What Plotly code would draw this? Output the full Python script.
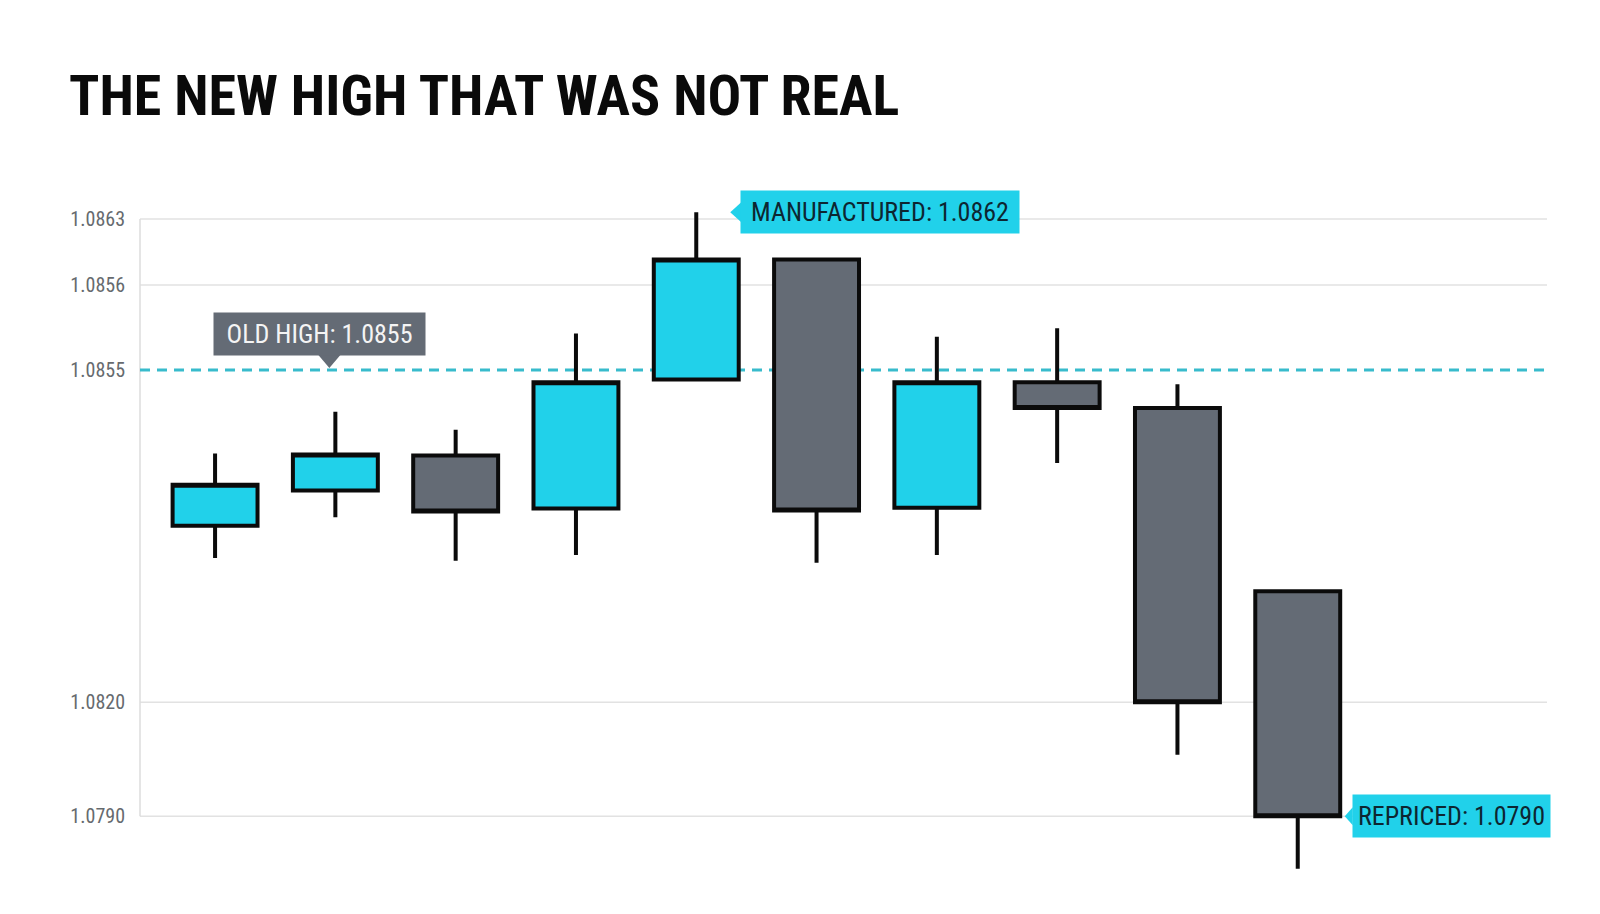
import numpy as np
import plotly.graph_objects as go

# ten sessions, oldest first
SESSIONS = list(range(10))
OPEN = [1.08386, 1.08423, 1.08460, 1.08404, 1.08540, 1.08587, 1.08405, 1.08537, 1.08510, 1.08317]
HIGH = [1.08462, 1.08506, 1.08487, 1.085543, 1.08637, 1.08587, 1.085539, 1.085549, 1.08535, 1.08317]
LOW = [1.08352, 1.08395, 1.08349, 1.08355, 1.08540, 1.08347, 1.08355, 1.08452, 1.08062, 1.07762]
CLOSE = [1.08429, 1.08461, 1.08401, 1.08537, 1.08587, 1.08402, 1.08537, 1.08510, 1.08200, 1.07900]

TICK_PRICES = [1.0790, 1.0820, 1.0855, 1.0856, 1.0863]
TICK_TEXT = ["1.0790", "1.0820", "1.0855", "1.0856", "1.0863"]

OLD_HIGH = 1.0855
MANUFACTURED = 1.0862
REPRICED = 1.0790

# the price scale is not linear: each labelled price sits at its own stop
AXIS_STOPS = [0, 114, 446, 531, 597]
Y_RANGE = [1.07685, 1.08684]

CYAN = "#21D1EA"
GRAY = "#646B75"
INK = "#0b0b0b"
FONT = "Roboto Condensed, Liberation Sans Narrow, Roboto, sans-serif"


def to_axis(p):
    p = np.asarray(p, dtype=float)
    lv = np.interp(p, TICK_PRICES, AXIS_STOPS)
    lo = (AXIS_STOPS[1] - AXIS_STOPS[0]) / (TICK_PRICES[1] - TICK_PRICES[0])
    hi = (AXIS_STOPS[-1] - AXIS_STOPS[-2]) / (TICK_PRICES[-1] - TICK_PRICES[-2])
    lv = np.where(p < TICK_PRICES[0], AXIS_STOPS[0] + (p - TICK_PRICES[0]) * lo, lv)
    lv = np.where(p > TICK_PRICES[-1], AXIS_STOPS[-1] + (p - TICK_PRICES[-1]) * hi, lv)
    return lv


fig = go.Figure()

fig.add_trace(go.Candlestick(
    x=SESSIONS,
    open=to_axis(OPEN), high=to_axis(HIGH), low=to_axis(LOW), close=to_axis(CLOSE),
    increasing=dict(fillcolor=CYAN, line=dict(color=INK, width=4)),
    decreasing=dict(fillcolor=GRAY, line=dict(color=INK, width=4)),
    whiskerwidth=0,
    hoverinfo="skip",
))

# grid lines (skip the old high, that one is dashed)
for p in TICK_PRICES:
    if p == OLD_HIGH:
        continue
    fig.add_shape(type="line", xref="paper", x0=0, x1=1, y0=float(to_axis(p)), y1=float(to_axis(p)),
                  line=dict(color="#e2e2e2", width=1.5), layer="below")

# left axis line, only between the outer ticks
fig.add_shape(type="line", xref="paper", x0=0, x1=0,
              y0=float(to_axis(TICK_PRICES[0])), y1=float(to_axis(TICK_PRICES[-1])),
              line=dict(color="#dcdcdc", width=1.5), layer="below")

# old high level
fig.add_shape(type="line", xref="paper", x0=0, x1=1, y0=float(to_axis(OLD_HIGH)), y1=float(to_axis(OLD_HIGH)),
              line=dict(color="#38BBCC", width=3, dash="10px,7px"), layer="below")

# callout pointers
def pointer(x, y, path, color):
    fig.add_shape(type="path", xref="x", yref="y", xsizemode="pixel", ysizemode="pixel",
                  xanchor=x, yanchor=float(to_axis(y)), path=path,
                  fillcolor=color, line=dict(width=0), layer="above")

pointer(4, HIGH[4], "M 34 0 L 45 10 L 45 -10 Z", CYAN)
pointer(9, REPRICED, "M 47 0 L 55 9 L 55 -9 Z", CYAN)
pointer(1, OLD_HIGH, "M -6 2 L -17 15 L 5 15 Z", GRAY)

label_font = dict(family=FONT, size=26)
fig.add_annotation(x=4, y=float(to_axis(HIGH[4])), text=f"MANUFACTURED: {MANUFACTURED:.4f}",
                   showarrow=False, xanchor="left", yanchor="middle", xshift=44,
                   width=278, height=42, bgcolor=CYAN, borderpad=0,
                   font=dict(label_font, color="#0d2631"))
fig.add_annotation(x=9, y=float(to_axis(REPRICED)), text=f"REPRICED: {REPRICED:.4f}",
                   showarrow=False, xanchor="left", yanchor="middle", xshift=54,
                   width=197, height=42, bgcolor=CYAN, borderpad=0,
                   font=dict(label_font, color="#0d2631"))
fig.add_annotation(x=1, y=float(to_axis(OLD_HIGH)), text=f"OLD HIGH: {OLD_HIGH:.4f}",
                   showarrow=False, xanchor="center", yanchor="bottom", xshift=-16, yshift=14,
                   width=211, height=42, bgcolor=GRAY, borderpad=0,
                   font=dict(label_font, color="#f4f4f4"))

fig.update_layout(
    width=1600, height=914,
    template="none",
    paper_bgcolor="white", plot_bgcolor="white",
    margin=dict(l=132, r=61, t=160, b=24),
    showlegend=False,
    boxgap=0.294, boxgroupgap=0,
    title=dict(text="<b>THE NEW HIGH THAT WAS NOT REAL</b>", x=61 / 1600, xanchor="left",
               y=1 - 87 / 914, yanchor="middle",
               font=dict(family=FONT, size=56, color="#0a0a0a")),
    xaxis=dict(visible=False, range=[-0.624, 11.072], rangeslider=dict(visible=False)),
    yaxis=dict(range=list(to_axis(Y_RANGE)), tickvals=list(to_axis(TICK_PRICES)), ticktext=TICK_TEXT,
               showgrid=False, zeroline=False, showline=False, ticks="",
               ticklabelstandoff=14,
               tickfont=dict(family=FONT, size=20, color="#666a6e")),
)

fig.write_html("out.html")
